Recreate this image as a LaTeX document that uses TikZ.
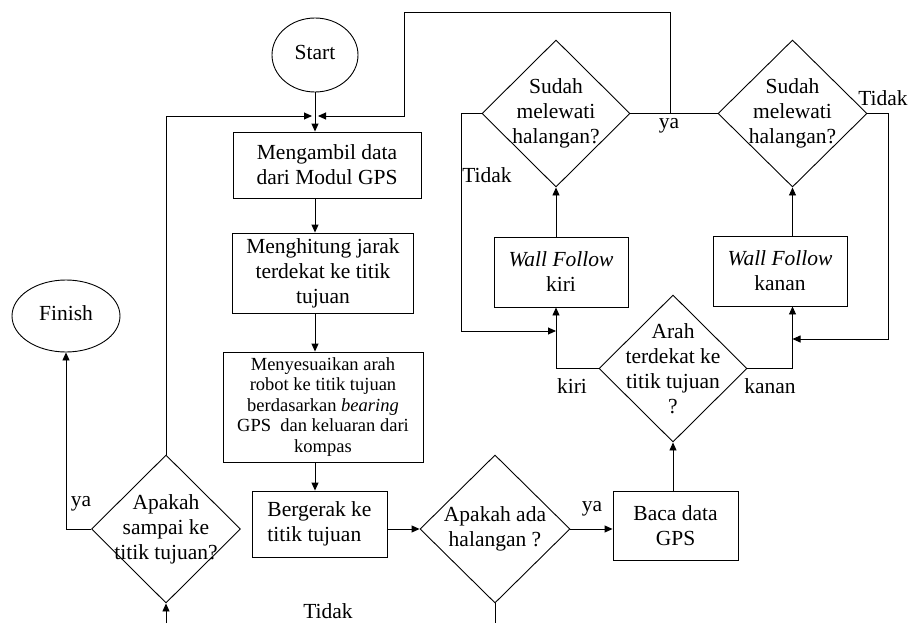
\documentclass[tikz,border=0pt]{standalone}
\usepackage{fontspec}
\setmainfont{Liberation Serif}
\usetikzlibrary{shapes.geometric,arrows.meta}

\begin{document}
\begin{tikzpicture}[x=1pt,y=-1pt,line width=0.9pt,
    >={Triangle[length=8pt,width=7pt]},
    font=\fontsize{21.5}{25}\selectfont,
    proses/.style={draw,rectangle,align=center,inner sep=0pt},
    keputusan/.style={draw,diamond,align=center,inner sep=-16pt,
      minimum width=148pt,minimum height=147pt},
    terminal/.style={draw,ellipse,inner sep=0pt},
    ket/.style={inner sep=0pt}]
      \useasboundingbox (0,0) rectangle (909,623);

      % awal dan akhir
      \node[terminal,minimum width=86pt,minimum height=74pt] (start) at (315,55) {\raisebox{6pt}{Start}};
      \node[terminal,minimum width=108pt,minimum height=72pt] (finish) at (66,316) {\raisebox{6pt}{Finish}};

      % proses utama
      \node[proses,minimum width=188pt,minimum height=66pt] (m1) at (327,165) {Mengambil data\\dari Modul GPS};
      \node[proses,minimum width=181pt,minimum height=80pt] (m2) at (323,273) {Menghitung jarak\\terdekat ke titik\\tujuan};
      \node[proses,minimum width=200pt,minimum height=110pt,font=\fontsize{18.5}{20.5}\selectfont] (m3) at (323,407)
        {Menyesuaikan arah\\robot ke titik tujuan\\berdasarkan \textit{bearing}\\GPS~ dan keluaran dari\\kompas};
      \node[proses,align=left,minimum width=135pt,minimum height=66pt] (gerak) at (319.5,524) {Bergerak ke\\titik tujuan};
      \node[proses,minimum width=125pt,minimum height=69pt] (baca) at (675.5,525.5) {Baca data\\GPS};
      \node[proses,minimum width=134pt,minimum height=70pt] (wfkiri) at (561,272) {\textit{Wall Follow}\\kiri};
      \node[proses,minimum width=134pt,minimum height=70pt] (wfkanan) at (780,271) {\textit{Wall Follow}\\kanan};

      % keputusan
      \node[keputusan,minimum width=149pt,minimum height=148pt] (sampai) at (166,529) {Apakah\\sampai ke\\titik tujuan?};
      \node[keputusan,minimum width=150pt,minimum height=148pt] (ada) at (495,529) {Apakah ada\\halangan ?};
      \node[keputusan] (arah) at (673,368.5) {Arah\\terdekat ke\\titik tujuan\\?};
      \node[keputusan] (sudah1) at (556,113.5) {Sudah\\melewati\\halangan?};
      \node[keputusan,minimum width=149pt] (sudah2) at (792.5,113.5) {Sudah\\melewati\\halangan?};

      % titik bantu
      \coordinate (gabung) at (315,116);
      \coordinate (balik) at (404,12);
      \coordinate (cabang) at (670,114);
      \coordinate (tkiri) at (461,331);
      \coordinate (tkanan) at (888,339);
      \coordinate (bawah) at (0,623);

      % jalur utama
      \draw[->] (start.south) -- (start.south |- m1.north);
      \draw[->] (start.south |- m1.south) -- (start.south |- m2.north);
      \draw[->] (start.south |- m2.south) -- (start.south |- m3.north);
      \draw[->] (start.south |- m3.south) -- (start.south |- gerak.north);
      \draw[->] (ada.west -| gerak.east) -- (ada.west);
      \draw[->] (ada.east) -- (ada.east -| baca.west);
      \draw[->] (baca.north -| arah.south) -- (arah.south);
      \draw (ada.south) -- (ada.south |- bawah);
      \draw[->] (sampai.south |- bawah) -- (sampai.south);

      % kembali ke atas
      \draw[->] (sampai.north) |- ([xshift=-3pt]gabung);
      \draw[->] (sampai.west) -| (finish.south);
      \draw (sudah1.east) -- (sudah2.west);
      \draw[->] (cabang) |- (balik) |- ([xshift=3pt]gabung);

      % cabang kiri
      \draw[->] (arah.west) -| (wfkiri.south -| sudah1.south);
      \draw[->] (wfkiri.north -| sudah1.south) -- (sudah1.south);
      \draw[->] (sudah1.west) -| (tkiri) -- (tkiri -| sudah1.south);

      % cabang kanan
      \draw[->] (arah.east) -| (wfkanan.south -| sudah2.south);
      \draw[->] (wfkanan.north -| sudah2.south) -- (sudah2.south);
      \draw[->] (sudah2.east) -| (tkanan) -- (tkanan -| sudah2.south);

      % keterangan
      \node[ket] (ya1) at (81,504) {ya};
      \node[ket] (tidak1) at (328,611) {Tidak};
      \node[ket] (ya2) at (592,509) {ya};
      \node[ket] (kiri) at (572,386) {kiri};
      \node[ket] (kanan) at (770,386) {kanan};
      \node[ket] (ya3) at (669,126) {ya};
      \node[ket] (tidak2) at (487,175) {Tidak};
      \node[ket] (tidak3) at (883,98) {Tidak};
\end{tikzpicture}
\end{document}
